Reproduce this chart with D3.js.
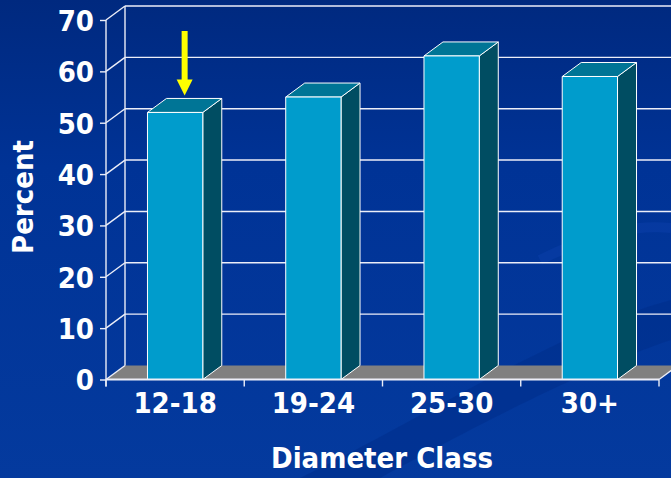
<!DOCTYPE html>
<html>
<head>
<meta charset="utf-8">
<script src="https://cdn.jsdelivr.net/npm/d3@7"></script>
<style>
  html, body { margin: 0; padding: 0; background: #003399; overflow: hidden; }
  svg { display: block; }
  text { font-family: "DejaVu Sans Condensed", "DejaVu Sans", sans-serif; font-weight: bold; fill: #fff; }
</style>
</head>
<body>
<script>
var width = 671, height = 478;

var categories = ["12-18", "19-24", "25-30", "30+"];
var percents = [52, 55, 63, 59];
var yTicks = [0, 10, 20, 30, 40, 50, 60, 70];
var arrowCategory = "12-18";

var depthX = 19, depthY = -14;

var x = d3.scaleBand()
    .domain(categories)
    .range([106, 659])
    .paddingInner(0.6)
    .paddingOuter(0.3);

var y = d3.scaleLinear()
    .domain([0, 70])
    .range([379.5, 20]);

var svg = d3.select("body")
	.append("svg")
	.attr("width", width)
	.attr("height", height);

// background
var defs = svg.append("defs");
var bg = defs.append("linearGradient").attr("id", "bg")
	.attr("x1", 0).attr("y1", 0).attr("x2", 0).attr("y2", 1);
bg.append("stop").attr("offset", "0%").attr("stop-color", "#00297f");
bg.append("stop").attr("offset", "35%").attr("stop-color", "#003396");
bg.append("stop").attr("offset", "100%").attr("stop-color", "#043a9e");

svg.append("rect")
	.attr("width", width)
	.attr("height", height)
	.attr("fill", "url(#bg)");

// faint swooshes
svg.append("path")
	.attr("d", "M300,478 C420,420 560,330 671,300 L671,340 C580,370 450,440 380,478 Z")
	.attr("fill", "#002f8c").attr("opacity", 0.6);
svg.append("path")
	.attr("d", "M540,260 C600,230 640,225 671,228")
	.attr("fill", "none").attr("stroke", "#0a3ea6").attr("stroke-width", 10).attr("opacity", 0.6);

var x0 = x.range()[0], x1 = x.range()[1];
var y0 = y(0);

// floor
svg.append("path")
	.attr("d", "M" + x0 + "," + y0 + "L" + x1 + "," + y0 + "L" + (x1 + depthX) + "," + (y0 + depthY) +
		"L" + (x0 + depthX) + "," + (y0 + depthY) + "Z")
	.attr("fill", "#808080");

// gridlines: left wall + back wall
var grid = svg.append("g").attr("stroke", "#eceef8").attr("stroke-width", 1.4).attr("fill", "none");
grid.selectAll(".side").data(yTicks.slice(1)).enter().append("path")
	.attr("d", function(d) { return "M" + x0 + "," + y(d) + "L" + (x0 + depthX) + "," + (y(d) + depthY); });
grid.selectAll(".back").data(yTicks.slice(1)).enter().append("path")
	.attr("d", function(d) { return "M" + (x0 + depthX) + "," + (y(d) + depthY) + "L" + (width + 5) + "," + (y(d) + depthY); });
grid.append("path")
	.attr("d", "M" + (x0 + depthX) + "," + (y(70) + depthY) + "L" + (x0 + depthX) + "," + (y0 + depthY));
grid.append("path")
	.attr("d", "M" + x0 + "," + y0 + "L" + (x0 + depthX) + "," + (y0 + depthY));
grid.append("path")
	.attr("d", "M" + x1 + "," + y0 + "L" + (x1 + depthX) + "," + (y0 + depthY));

// bars
var bars = svg.append("g").selectAll(".bar")
	.data(categories.map(function(c, i) { return {cat: c, value: percents[i]}; }))
	.enter().append("g").attr("class", "bar")
	.attr("stroke", "#ffffff").attr("stroke-width", 1).attr("stroke-linejoin", "round");

bars.append("path")
	.attr("fill", "#004d62")
	.attr("d", function(d) {
		var bx = x(d.cat) + x.bandwidth(), t = y(d.value);
		return "M" + bx + "," + t + "L" + (bx + depthX) + "," + (t + depthY) + "L" + (bx + depthX) + "," + (y0 + depthY) + "L" + bx + "," + y0 + "Z";
	});
bars.append("path")
	.attr("fill", "#007596")
	.attr("d", function(d) {
		var a = x(d.cat), b = a + x.bandwidth(), t = y(d.value);
		return "M" + a + "," + t + "L" + (a + depthX) + "," + (t + depthY) + "L" + (b + depthX) + "," + (t + depthY) + "L" + b + "," + t + "Z";
	});
bars.append("rect")
	.attr("fill", "#009ccc")
	.attr("x", function(d) { return x(d.cat); })
	.attr("y", function(d) { return y(d.value); })
	.attr("width", x.bandwidth())
	.attr("height", function(d) { return y0 - y(d.value); });

// front floor edge + category boundary ticks
var bounds = categories.map(function(c) { return x(c) - x.step() * x.paddingInner() / 2; });
bounds.push(x1);
svg.append("line").attr("x1", x0).attr("x2", x1).attr("y1", y0).attr("y2", y0)
	.attr("stroke", "#eceef8").attr("stroke-width", 2);
svg.selectAll(".xtick").data(bounds).enter().append("line")
	.attr("x1", function(d) { return d; }).attr("x2", function(d) { return d; })
	.attr("y1", y0).attr("y2", y0 + 7)
	.attr("stroke", "#eceef8").attr("stroke-width", 1.4);

// y axis
var yAxis = svg.append("g")
	.attr("transform", "translate(" + x0 + ",0)")
	.call(d3.axisLeft(y).tickValues(yTicks).tickSize(6).tickPadding(6).tickFormat(d3.format("d")));
yAxis.select(".domain").attr("stroke", "#eceef8").attr("stroke-width", 1.4)
	.attr("d", "M0," + y(70) + "V" + (y0 + 7));
yAxis.selectAll(".tick line").attr("stroke", "#eceef8").attr("stroke-width", 1.4);
yAxis.selectAll(".tick text").attr("fill", "#fff").style("font-size", "29px")
	.style("font-family", null).attr("dy", "0.36em");

// x labels
var xAxis = svg.append("g")
	.attr("transform", "translate(0," + y0 + ")")
	.call(d3.axisBottom(x).tickSize(0).tickPadding(0));
xAxis.select(".domain").remove();
xAxis.selectAll(".tick text").attr("fill", "#fff").style("font-size", "29px")
	.attr("y", 33).attr("dy", 0);

// axis titles
svg.append("text")
	.attr("x", 382).attr("y", 468)
	.attr("text-anchor", "middle")
	.style("font-size", "29px")
	.text("Diameter Class");

svg.append("text")
	.attr("transform", "translate(33,197) rotate(-90)")
	.attr("text-anchor", "middle")
	.style("font-size", "29px")
	.text("Percent");

// yellow arrow
var ax = x(arrowCategory) + x.bandwidth() / 2 + depthX / 2;
var tip = y(percents[categories.indexOf(arrowCategory)]) + depthY / 2 - 10;
svg.append("rect")
	.attr("x", ax - 3).attr("y", 31).attr("width", 6).attr("height", tip - 16 - 31 + 1)
	.attr("fill", "#ffff00");
svg.append("path")
	.attr("d", "M" + (ax - 8) + "," + (tip - 16) + "L" + (ax + 8) + "," + (tip - 16) + "L" + ax + "," + tip + "Z")
	.attr("fill", "#ffff00");
</script>
</body>
</html>
